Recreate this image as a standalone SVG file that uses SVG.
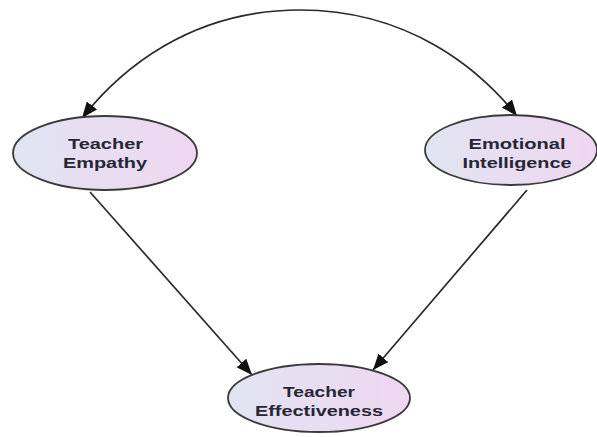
<svg xmlns="http://www.w3.org/2000/svg" width="597" height="437" viewBox="0 0 597 437">
<style>
.node ellipse{fill:url(#g);stroke:#3a3a3a;stroke-width:1.8}
.node text{font-family:"Liberation Sans",Arial,sans-serif;font-weight:bold;font-size:15.5px;fill:#262636;text-anchor:middle}
.edge{fill:none;stroke:#2a2a2a;stroke-width:1.7;marker-end:url(#arr)}
</style>
<defs>
<linearGradient id="g" x1="0" y1="0" x2="1" y2="0">
<stop offset="0" stop-color="#e1e4f1"/>
<stop offset="1" stop-color="#efd7f1"/>
</linearGradient>
<marker id="arr" markerUnits="userSpaceOnUse" markerWidth="18" markerHeight="13" refX="16" refY="6.5" orient="auto">
<path d="M0,0 L16,6.5 L0,13 Z" fill="#111"/>
</marker>
</defs>
<rect width="597" height="437" fill="#fff"/>
<g id="connectors">
<path class="edge" d="M 300 10 C 190 10 120 70 82 118"/>
<path class="edge" d="M 300 10 C 410 10 480 70 517 116"/>
<path class="edge" d="M 90 192 L 252 375"/>
<path class="edge" d="M 527 190 L 373 370"/>
</g>
<g id="teacher-empathy" class="node">
<ellipse cx="105" cy="153" rx="92" ry="37"/>
<text x="105.5" y="149" textLength="75" lengthAdjust="spacingAndGlyphs">Teacher</text>
<text x="105" y="168" textLength="84" lengthAdjust="spacingAndGlyphs">Empathy</text>
</g>
<g id="emotional-intelligence" class="node">
<ellipse cx="511" cy="150" rx="86" ry="35"/>
<text x="517" y="149" textLength="97" lengthAdjust="spacingAndGlyphs">Emotional</text>
<text x="517" y="168" textLength="109" lengthAdjust="spacingAndGlyphs">Intelligence</text>
</g>
<g id="teacher-effectiveness" class="node">
<ellipse cx="319" cy="398" rx="91" ry="34"/>
<text x="319" y="397" textLength="72" lengthAdjust="spacingAndGlyphs">Teacher</text>
<text x="319" y="416" textLength="128" lengthAdjust="spacingAndGlyphs">Effectiveness</text>
</g>
</svg>
